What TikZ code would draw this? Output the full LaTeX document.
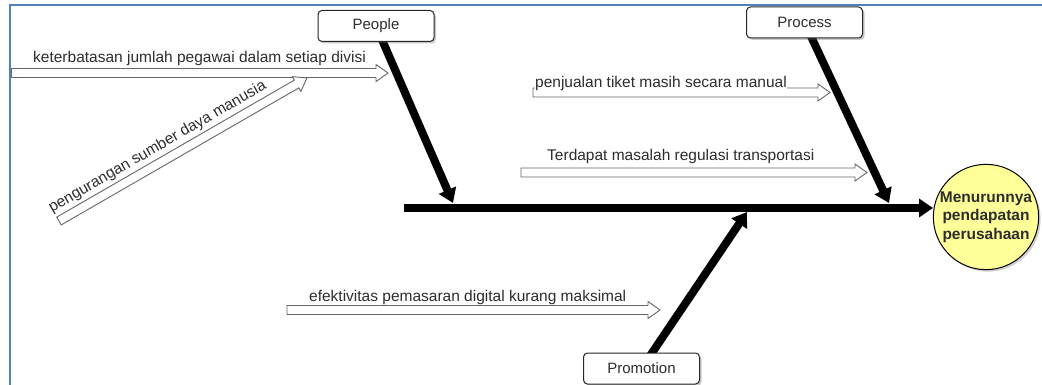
\documentclass[tikz,border=0pt]{standalone}
\usepackage{fontspec}
\setmainfont{Liberation Sans}
\usetikzlibrary{calc,arrows.meta,shadows,backgrounds}
\definecolor{frameblue}{RGB}{79,129,189}
\definecolor{effectfill}{RGB}{255,255,153}
\definecolor{txt}{RGB}{45,45,45}
\newcommand\hollowarrow[2]{%
  \coordinate (hc) at ($(#2)!12pt!(#1)$);
  \draw[hollow] ($(#1)!4.5pt!90:(#2)$) -- ($(hc)!4.5pt!90:(#2)$) -- ($(hc)!8.5pt!90:(#2)$) -- (#2)
     -- ($(hc)!8.5pt!-90:(#2)$) -- ($(hc)!4.5pt!-90:(#2)$) -- ($(#1)!4.5pt!-90:(#2)$) -- cycle;}
\begin{document}
\begin{tikzpicture}[x=1pt,y=-1pt,
  lbl/.style={font=\fontsize{15.5}{18}\selectfont, text=txt, inner sep=0pt, anchor=base west},
  cat/.style={draw=black!85, line width=1pt, rounded corners=4pt, fill=white,
    minimum width=116pt, minimum height=31pt, inner sep=0pt,
    font=\fontsize{15}{18}\selectfont, text=txt,
    drop shadow={shadow xshift=2pt, shadow yshift=-2pt, opacity=0.35, fill=black!60}},
  effectnode/.style={circle, draw=black, line width=1pt, fill=effectfill, minimum size=104pt, inner sep=0pt,
    align=center, font=\bfseries\fontsize{15.5}{18.5}\selectfont, text=txt,
    drop shadow={shadow xshift=2pt, shadow yshift=-2pt, opacity=0.3, fill=black!60}},
  bone/.style={line width=8pt, draw=black, -{Triangle[width=18pt,length=14pt]}},
  hollow/.style={draw=black!60, line width=0.9pt, fill=white, line join=miter},
]
\useasboundingbox (0,0) rectangle (1042,385);

% category boxes and effect
\node[cat] (people) at (376,26) {People};
\node[cat] (process) at (804.5,22.5) {Process};
\node[cat] (promo) at (641.5,368.5) {Promotion};
\node[effectnode] (effect) at (986,217) {Menurunnya\\pendapatan\\perusahaan};

% spine and bone tips
\coordinate (spS) at (404,208);
\coordinate (spT) at (933,208);
\coordinate (pT) at (453,203);
\coordinate (prT) at (889,203);
\coordinate (pmT) at (747,212);

\begin{scope}[on background layer]
  \fill[white] (0,0) rectangle (1042,385);
  \draw[bone] (spS) -- (spT);
  \draw[bone] (people.center) -- (pT);
  \draw[bone] (process.center) -- (prT);
  \draw[bone] (promo.center) -- (pmT);
\end{scope}

% frame
\draw[frameblue, line width=2.5pt] (10,386) -- (10,5) -- (1043,5);

% cause arrows
\coordinate (k1S) at (11.5,73);
\coordinate (k1T) at (388,73);
\hollowarrow{k1S}{k1T}
\node[lbl] (k1) at (33,63) {keterbatasan jumlah pegawai dalam setiap divisi};

\coordinate (pgS) at (59,221);
\coordinate (pgT) at (307,78);
\hollowarrow{pgS}{pgT}
\coordinate (pgL) at ($(pgS)!10.5pt!90:(pgT)$);
\node[lbl, rotate=30] (pg) at ($(pgL)!-2pt!(pgT)$) {pengurangan sumber daya manusia};

\coordinate (pjS) at (533,92.5);
\coordinate (pjT) at (830,92.5);
\hollowarrow{pjS}{pjT}
\node[lbl, fill=white, inner ysep=1pt] (pj) at (535,87.5) {penjualan tiket masih secara manual};

\coordinate (tdS) at (521,172.5);
\coordinate (tdT) at (867,172.5);
\hollowarrow{tdS}{tdT}
\node[lbl] (td) at (547,160.5) {Terdapat masalah regulasi transportasi};

\coordinate (efS) at (287,310);
\coordinate (efT) at (660,310);
\hollowarrow{efS}{efT}
\node[lbl] (ef) at (309,301.5) {efektivitas pemasaran digital kurang maksimal};
\end{tikzpicture}
\end{document}
